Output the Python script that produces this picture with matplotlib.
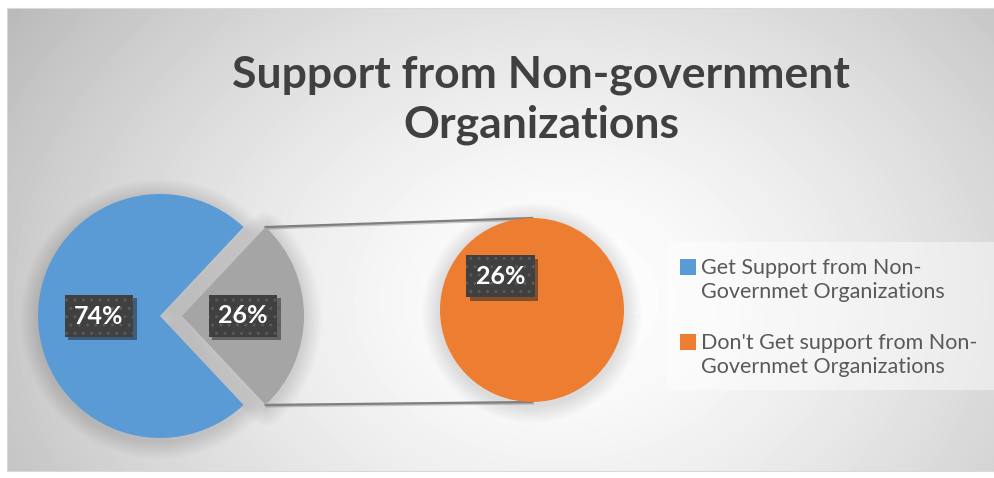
import matplotlib.pyplot as plt
import numpy as np
import matplotlib.patheffects as pe
from matplotlib.patches import Wedge, Rectangle

plt.rcParams['font.family'] = ['Lato', 'DejaVu Sans']
plt.rcParams['hatch.linewidth'] = 1.0

title = 'Support from Non-government\nOrganizations'
labels = ['Get Support from Non-\nGovernmet Organizations',
          "Don't Get support from Non-\nGovernmet Organizations"]
shares = [74, 26]
colors = ['#5b9bd5', '#ed7d31']
split_color = '#a5a5a5'

W, H = 994, 478
fig = plt.figure(figsize=(W / 100, H / 100), dpi=100)
fig.patch.set_facecolor('white')

# radial gradient behind the chart
bg = fig.add_axes([7 / W, 7 / H, (W - 7) / W, 463 / H])
xs, ys = np.meshgrid(np.arange(7, W), np.arange(8, 471))
d = np.sqrt(((xs - 560) / 540.0) ** 2 + ((ys - 300) / 420.0) ** 2)
shade = 1 - 0.2 * np.clip(d, 0, 1.3) ** 1.5
bg.imshow(shade, cmap='gray', vmin=0, vmax=1, aspect='auto',
          extent=[7, W, 471, 8], interpolation='bilinear')
bg.set_xticks([])
bg.set_yticks([])
for s in bg.spines.values():
    s.set_color('#d9d9d9')

ax = fig.add_axes([0, 0, 1, 1])
ax.set_facecolor('none')

other = shares[1]
start = 360 * other / sum(shares) / 2

wedges, _, pcts = ax.pie(shares, colors=[colors[0], split_color], startangle=start,
                         explode=[0, 22], radius=122, center=(160, 162),
                         autopct='%d%%', pctdistance=0.5, frame=True,
                         wedgeprops=dict(linewidth=0))
sub, _, sub_pct = ax.pie([other], colors=[colors[1]], startangle=-start,
                         radius=92, center=(532, 168),
                         autopct=lambda p: f'{other}%', pctdistance=0.5,
                         frame=True, wedgeprops=dict(linewidth=0))

# soft blurred shadow under each slice
for w in list(wedges) + list(sub):
    for lw in np.arange(3, 26, 2.5):
        ax.add_patch(Wedge((w.center[0], w.center[1] - 3), w.r, w.theta1, w.theta2,
                           facecolor='none', edgecolor='black', linewidth=lw,
                           alpha=0.012, joinstyle='round', zorder=0.5))

# lines joining the split slice to the second pie
gray = wedges[1]
big = sub[0]
for ang, sgn in [(gray.theta2, 1), (gray.theta1, -1)]:
    x0 = gray.center[0] + gray.r * np.cos(np.radians(ang))
    y0 = gray.center[1] + gray.r * np.sin(np.radians(ang))
    ax.plot([x0, big.center[0]], [y0, big.center[1] + sgn * big.r],
            color='#7f7f7f', lw=1.6, zorder=0.8,
            path_effects=[pe.SimpleLineShadow(offset=(0.8, -1), alpha=0.2),
                          pe.Normal()])

for t in list(pcts) + list(sub_pct):
    t.set(color='white', fontsize=18, fontweight='bold')
    t.set_bbox(dict(boxstyle='square,pad=0.38', facecolor='#404040',
                    edgecolor='#5a5a5a', linewidth=0, hatch='..'))
    t.get_bbox_patch().set_path_effects(
        [pe.SimplePatchShadow(offset=(2.5, -2.5), alpha=0.45), pe.Normal()])

# legend panel
ax.add_patch(Rectangle((667, H - 390), W - 667, 148, facecolor='white',
                       alpha=0.45, edgecolor='none', zorder=0.3))
for i, (lab, c) in enumerate(zip(labels, colors)):
    ytop = 259 + i * 75
    ax.add_patch(Rectangle((680, H - ytop - 16), 16, 16, facecolor=c,
                           edgecolor='none'))
    ax.text(701, H - (ytop + 21), lab, ha='left', va='center', fontsize=15.5,
            color='#595959', linespacing=1.2)

ax.set_xlim(0, W)
ax.set_ylim(0, H)
ax.set_aspect('equal')
ax.axis('off')

fig.text(541 / W, 1 - 100 / H, title, ha='center', va='center', fontsize=32,
         fontweight='bold', color='#404040', linespacing=1.3)

fig.savefig('out.png', dpi=100)
